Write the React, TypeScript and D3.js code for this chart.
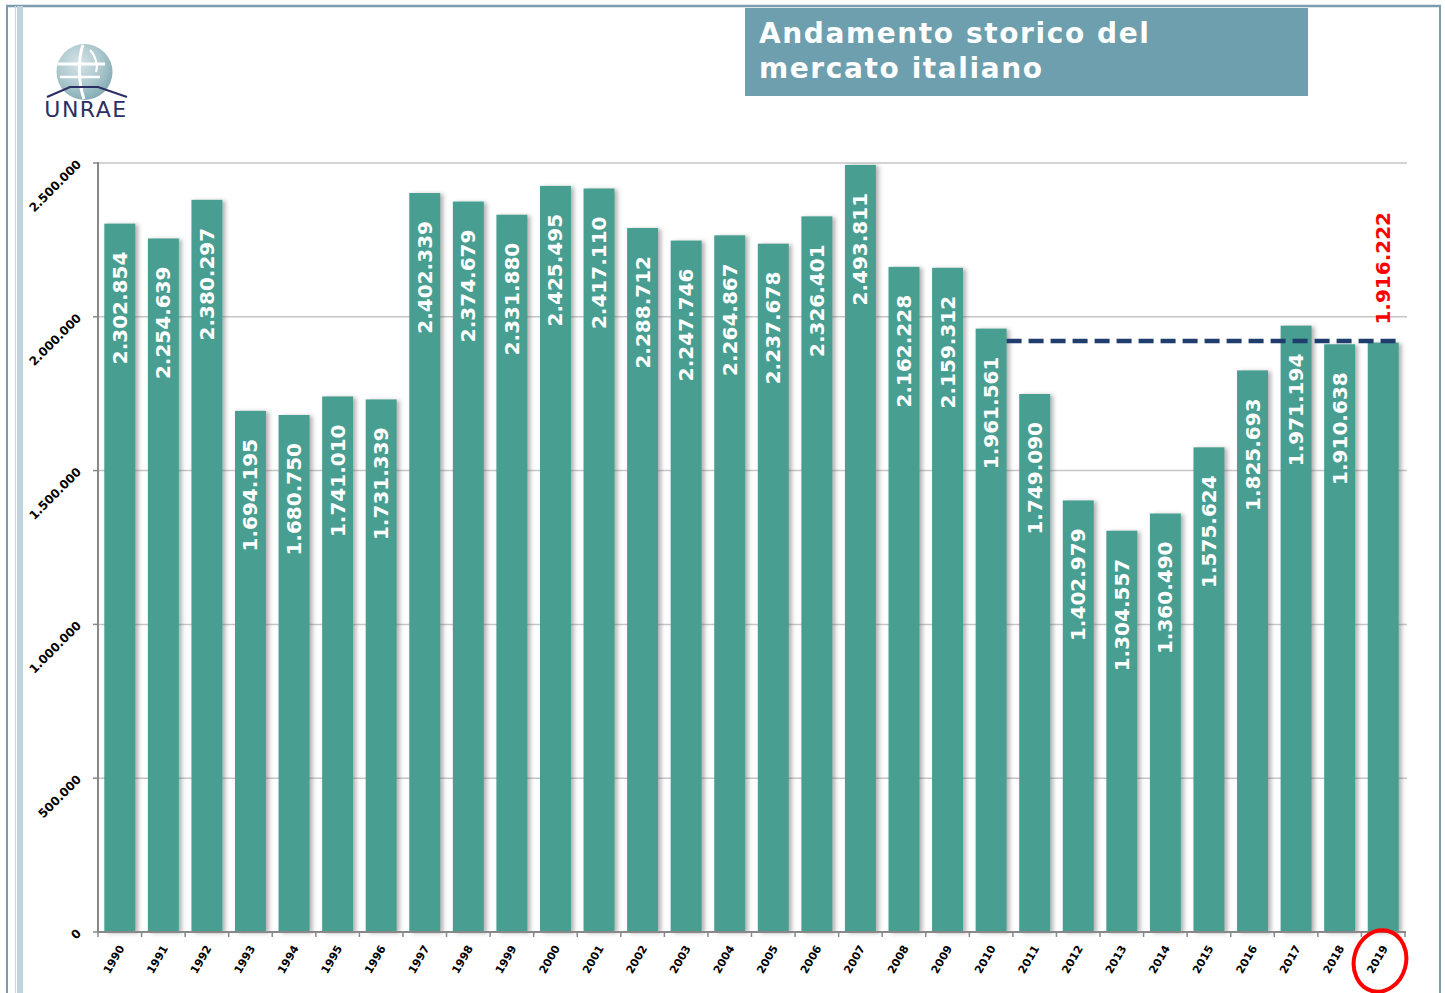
import React from 'react';
import * as d3 from 'd3';

const years = [
  '1990', '1991', '1992', '1993', '1994', '1995', '1996', '1997', '1998', '1999',
  '2000', '2001', '2002', '2003', '2004', '2005', '2006', '2007', '2008', '2009',
  '2010', '2011', '2012', '2013', '2014', '2015', '2016', '2017', '2018', '2019',
];

const registrations = [
  2302854, 2254639, 2380297, 1694195, 1680750, 1741010, 1731339, 2402339, 2374679, 2331880,
  2425495, 2417110, 2288712, 2247746, 2264867, 2237678, 2326401, 2493811, 2162228, 2159312,
  1961561, 1749090, 1402979, 1304557, 1360490, 1575624, 1825693, 1971194, 1910638, 1916222,
];

const yTicks = [0, 500000, 1000000, 1500000, 2000000, 2500000];

const titleLines = ['Andamento storico del', 'mercato italiano'];

const highlightYear = '2019';
const referenceFrom = '2010';

const W = 1445;
const H = 993;
const FONT = '"DejaVu Sans", Verdana, sans-serif';
const BAR = '#469e91';

const itLocale = d3.formatLocale({ decimal: ',', thousands: '.', grouping: [3], currency: ['', ''] });
const fmt = itLocale.format(',d');

const Logo = () => (
  <g>
    <defs>
      <radialGradient id="globe" cx="40%" cy="35%" r="70%">
        <stop offset="0%" stopColor="#d7e4e8" />
        <stop offset="60%" stopColor="#a9c6cc" />
        <stop offset="100%" stopColor="#7fa9b2" />
      </radialGradient>
    </defs>
    <circle cx={84.5} cy={72} r={28} fill="url(#globe)" />
    <path d="M83,45 C78,58 78,82 84,99" fill="none" stroke="#fff" strokeWidth={3} />
    <path d="M58,64 L105,64" stroke="#fff" strokeWidth={3} />
    <path d="M60,77 L100,77" stroke="#fff" strokeWidth={2.5} />
    <path d="M90,50 C96,56 98,66 96,72" fill="none" stroke="#fff" strokeWidth={2} />
    <path d="M47,97 L70,87 L98,87 L127,97" fill="none" stroke="#2c2f63" strokeWidth={2.2} />
    <text x={86} y={117} textAnchor="middle" fontFamily={FONT} fontSize={22}
          fill="#2c2f63" letterSpacing={1.5} style={{ fontWeight: 400 }}>
      UNRAE
    </text>
  </g>
);

export default function App() {
  const x = d3.scaleBand<string>().domain(years).range([98, 1405]).padding(0);
  const y = d3.scaleLinear().domain([0, 2500000]).range([932, 163]);
  const barW = x.bandwidth() * 0.71;
  const barX = (yr: string) => (x(yr) as number) + (x.bandwidth() - barW) / 2;

  const hiIdx = years.indexOf(highlightYear);
  const hiVal = registrations[hiIdx];
  const refStart = barX(referenceFrom) + barW;
  const refEnd = barX(highlightYear) + barW;
  const hiCenter = barX(highlightYear) + barW / 2;

  return (
    <svg width={W} height={H} style={{ position: 'absolute', left: 0, top: 0, background: '#fff' }}
         fontFamily={FONT}>
      <defs>
        <filter id="shadow" x="-20%" y="-5%" width="150%" height="110%">
          <feDropShadow dx={3} dy={1} stdDeviation={2} floodColor="#555" floodOpacity={0.45} />
        </filter>
      </defs>

      {/* page frame */}
      <line x1={6} y1={6} x2={1441} y2={6} stroke="#7d9bae" strokeWidth={2.5} />
      <line x1={7} y1={6} x2={7} y2={H} stroke="#7d9bae" strokeWidth={2} />
      <line x1={15.5} y1={6} x2={15.5} y2={H} stroke="#c9d9e1" strokeWidth={1.2} />
      <line x1={20} y1={6} x2={20} y2={H} stroke="#bfd3dc" strokeWidth={6} />
      <line x1={1440} y1={6} x2={1440} y2={H} stroke="#7d9bae" strokeWidth={2} />

      <Logo />

      {/* title box */}
      <rect x={745} y={8} width={563} height={88} fill="#6e9fae" />
      {titleLines.map((t, i) => (
        <text key={t} x={759} y={43 + i * 35} fill="#fff" fontSize={28} fontWeight="bold"
              letterSpacing={1.6}>
          {t}
        </text>
      ))}

      {/* gridlines */}
      {yTicks.filter(t => t > 0).map(t => (
        <line key={t} x1={98} x2={1407} y1={y(t)} y2={y(t)} stroke="#c6c6c6" strokeWidth={1.5} />
      ))}

      {/* bars */}
      {years.map((yr, i) => (
        <rect key={yr} x={barX(yr)} y={y(registrations[i])} width={barW}
              height={y(0) - y(registrations[i])} fill={BAR} filter="url(#shadow)" />
      ))}

      {/* bar labels */}
      {years.map((yr, i) => {
        if (yr === highlightYear) return null;
        const cx = barX(yr) + barW / 2;
        const ty = y(registrations[i]) + 28;
        return (
          <text key={yr} transform={`translate(${cx + 7},${ty}) rotate(-90)`} textAnchor="end"
                fill="#fff" fontSize={20} fontWeight="bold">
            {fmt(registrations[i])}
          </text>
        );
      })}

      {/* reference line */}
      <line x1={refStart} x2={refEnd} y1={y(hiVal) - 1.5} y2={y(hiVal) - 1.5}
            stroke="#1f3d6d" strokeWidth={4.5} strokeDasharray="15,7" />
      <text transform={`translate(${hiCenter + 7},${y(hiVal) - 18}) rotate(-90)`}
            fill="#ff0000" fontSize={20} fontWeight="bold">
        {fmt(hiVal)}
      </text>

      {/* y axis */}
      <line x1={98} x2={98} y1={162} y2={932} stroke="#888" strokeWidth={2} />
      {yTicks.map(t => (
        <g key={t}>
          <line x1={93} x2={98} y1={y(t)} y2={y(t)} stroke="#888" strokeWidth={1.5} />
          <text transform={`translate(82,${y(t) + 2}) rotate(-45)`} textAnchor="end"
                fontSize={12} fontWeight="bold" fill="#000">
            {fmt(t)}
          </text>
        </g>
      ))}

      {/* x axis */}
      <line x1={98} x2={1406} y1={932} y2={932} stroke="#888" strokeWidth={2} />
      {[...years.map(yr => x(yr) as number), 1405].map((px, i) => (
        <line key={i} x1={px} x2={px} y1={932} y2={937} stroke="#888" strokeWidth={1.5} />
      ))}
      {years.map(yr => {
        const cx = (x(yr) as number) + x.bandwidth() / 2;
        return (
          <text key={yr} transform={`translate(${cx + 5},${948}) rotate(-60)`} textAnchor="end"
                fontSize={11} fontWeight="bold" fill="#000">
            {yr}
          </text>
        );
      })}

      {/* highlight circle */}
      <ellipse cx={1380} cy={961} rx={26} ry={31} fill="none" stroke="#ff0000" strokeWidth={4}
               transform="rotate(15,1380,961)" />
    </svg>
  );
}
